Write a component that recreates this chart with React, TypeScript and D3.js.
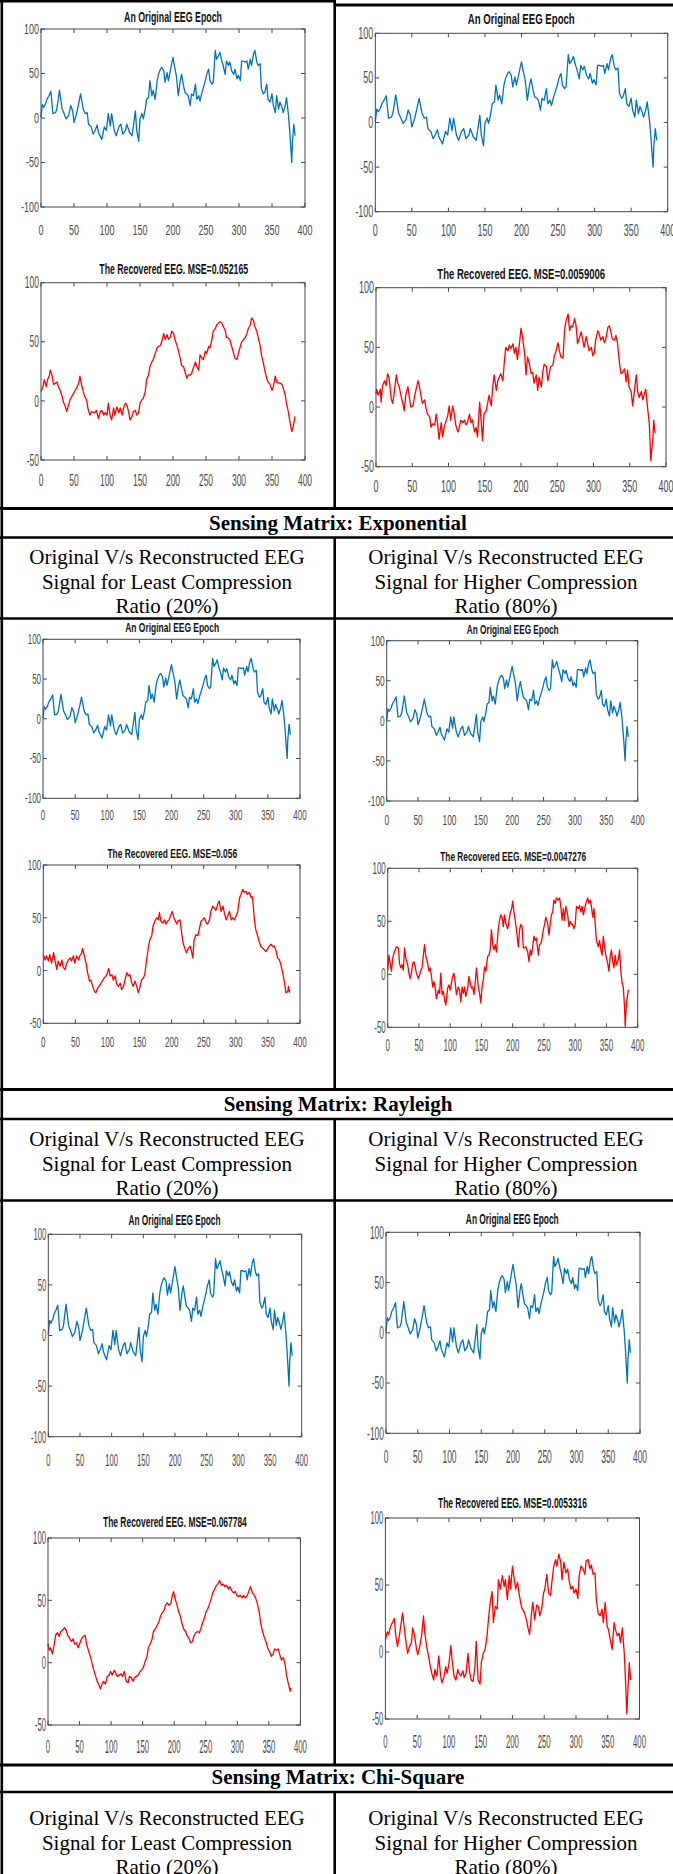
import React from "react";
import * as d3 from "d3";

// ---- Signal data: [sample index, amplitude] ----
const originalEpoch: [number, number][] = [[0,1],[2,15],[4,12],[7,16],[9,21],[12,25],[15,30],[18,5],[22,6],[24,10],[28,31],[32,10],[35,5],[38,-1],[42,3],[45,14],[48,8],[50,-5],[54,5],[60,27],[64,10],[67,5],[70,6],[72,-7],[76,-10],[79,-18],[82,-14],[85,-8],[87,-16],[92,-24],[96,-10],[99,-14],[102,5],[105,-9],[107,5],[111,-14],[114,-20],[118,-10],[121,-7],[124,-18],[128,-14],[130,-7],[134,-16],[138,-20],[140,-9],[143,8],[145,-14],[148,-26],[150,-1],[153,5],[155,-1],[158,10],[160,21],[163,23],[165,42],[168,25],[170,31],[173,21],[176,42],[178,49],[181,55],[183,57],[186,53],[188,40],[191,51],[193,42],[196,53],[198,61],[200,68],[202,59],[205,48],[208,25],[211,42],[213,49],[216,36],[218,29],[221,27],[223,25],[226,14],[228,27],[231,25],[234,38],[236,21],[239,25],[241,19],[244,29],[246,34],[249,42],[251,49],[254,55],[256,42],[259,38],[261,40],[264,76],[266,66],[269,70],[271,74],[274,64],[276,59],[279,49],[281,64],[284,59],[286,63],[289,53],[292,49],[294,55],[297,44],[299,48],[302,42],[304,64],[307,64],[309,63],[312,64],[314,55],[317,66],[319,59],[322,72],[324,76],[327,63],[329,59],[332,61],[334,33],[337,27],[339,29],[342,38],[344,21],[347,18],[350,27],[352,14],[355,6],[357,25],[360,10],[362,18],[365,12],[367,6],[370,14],[372,23],[375,3],[377,-16],[380,-50],[381,-27],[383,-7],[385,-20]];

const recoveredUniformLow: [number, number][] = [[0,8],[3,12],[5,18],[8,12],[10,18],[13,22],[14,26],[17,21],[19,14],[22,15],[24,16],[27,11],[29,9],[32,4],[34,-1],[37,-5],[39,-9],[42,-3],[44,1],[47,4],[49,6],[52,9],[54,11],[57,15],[59,21],[61,15],[64,8],[66,4],[69,1],[71,-6],[74,-12],[77,-9],[81,-10],[84,-8],[87,-15],[90,-9],[92,-8],[95,-12],[97,-10],[100,-12],[102,-2],[105,-13],[107,-16],[110,-6],[112,-12],[115,-5],[118,-10],[120,-6],[123,-12],[125,-6],[128,-2],[130,-3],[133,-10],[135,-16],[138,-13],[140,-9],[143,-8],[145,-12],[148,-10],[150,-2],[153,1],[155,2],[158,8],[160,18],[163,22],[165,29],[168,33],[170,35],[173,40],[176,45],[178,46],[181,47],[183,50],[186,57],[188,52],[191,56],[193,52],[196,54],[198,59],[201,57],[203,52],[206,47],[208,43],[211,36],[213,30],[216,29],[218,25],[221,19],[223,22],[226,22],[228,23],[231,28],[234,33],[236,29],[239,26],[241,39],[244,36],[246,35],[249,42],[251,40],[254,46],[256,45],[259,52],[261,59],[264,61],[266,64],[269,66],[271,67],[274,66],[276,63],[279,60],[281,54],[284,53],[286,52],[289,46],[292,40],[294,36],[297,35],[299,40],[302,46],[304,50],[307,52],[309,53],[312,57],[314,61],[317,64],[319,70],[322,68],[324,63],[327,59],[329,54],[332,47],[334,39],[337,32],[339,26],[342,19],[344,16],[347,14],[350,9],[352,12],[355,21],[357,16],[360,15],[362,15],[365,14],[367,11],[370,5],[372,-2],[375,-10],[377,-17],[380,-26],[382,-22],[385,-13]];

const recoveredUniformHigh: [number, number][] = [[0,11],[1,15],[3,10],[6,15],[7,4],[9,18],[12,22],[14,18],[16,28],[18,25],[21,7],[23,3],[25,11],[28,27],[30,20],[32,17],[35,8],[37,3],[39,-3],[41,10],[44,17],[46,8],[48,0],[51,1],[53,8],[55,14],[58,22],[60,17],[62,10],[64,3],[67,6],[69,-1],[71,-6],[74,-8],[76,-17],[78,-14],[81,-15],[83,-6],[85,-14],[87,-27],[90,-13],[92,-25],[94,-17],[97,-11],[99,-7],[101,1],[103,-11],[106,1],[108,-6],[110,-15],[113,-21],[115,-17],[117,-11],[120,-13],[122,-11],[124,-15],[126,-13],[129,-6],[131,-13],[133,-11],[136,-21],[138,-17],[140,-25],[143,4],[145,-11],[147,-28],[149,-6],[152,-3],[154,3],[156,10],[159,1],[161,17],[163,27],[166,14],[168,22],[170,25],[172,28],[175,22],[177,38],[179,50],[182,47],[184,52],[186,49],[189,53],[191,45],[193,50],[195,40],[198,54],[200,66],[202,59],[205,45],[207,27],[209,42],[212,35],[214,28],[216,29],[218,20],[221,27],[223,14],[225,25],[228,17],[230,29],[232,36],[235,34],[237,22],[239,28],[241,34],[244,35],[246,43],[248,46],[251,54],[253,47],[255,42],[258,41],[260,64],[262,72],[265,78],[267,64],[269,68],[271,67],[274,74],[276,68],[278,53],[281,59],[283,63],[285,57],[287,50],[290,59],[292,53],[294,47],[297,50],[299,43],[301,45],[303,56],[306,64],[308,61],[310,56],[313,59],[315,54],[317,57],[320,67],[322,68],[324,63],[326,57],[329,56],[331,60],[333,54],[336,36],[338,28],[340,29],[343,32],[345,21],[347,31],[349,17],[352,13],[354,1],[356,11],[359,27],[361,13],[363,8],[366,13],[368,6],[370,11],[372,15],[375,-3],[377,-14],[379,-45],[382,-25],[383,-11],[385,-22]];

const recoveredExpLow: [number, number][] = [[0,15],[3,10],[5,14],[8,9],[10,15],[13,7],[16,17],[18,10],[21,1],[23,9],[26,4],[29,10],[31,3],[34,1],[36,6],[39,10],[42,12],[44,9],[47,14],[49,7],[52,14],[55,10],[57,14],[60,17],[61,21],[64,14],[67,6],[69,-2],[72,-10],[74,-9],[77,-15],[80,-20],[82,-21],[85,-16],[87,-15],[90,-12],[93,-9],[95,-7],[98,-5],[100,-2],[102,2],[104,-5],[107,-4],[109,-9],[112,-5],[114,-12],[117,-15],[120,-12],[122,-18],[125,-15],[127,-10],[130,-2],[133,-5],[135,-4],[138,-12],[140,-15],[143,-10],[146,-16],[148,-21],[151,-15],[153,-9],[156,-7],[158,-4],[161,10],[164,23],[166,29],[169,33],[171,42],[174,47],[177,50],[179,48],[181,55],[183,47],[186,45],[189,48],[191,44],[194,47],[196,48],[199,53],[201,56],[203,51],[205,48],[208,44],[210,47],[213,48],[216,34],[218,26],[221,20],[223,17],[226,21],[229,23],[231,18],[233,12],[235,29],[238,34],[241,33],[243,39],[246,47],[248,48],[251,50],[254,45],[256,44],[259,48],[261,56],[264,61],[267,59],[269,57],[272,63],[274,66],[277,56],[280,61],[282,55],[285,48],[287,51],[290,56],[293,48],[295,50],[298,48],[300,51],[303,56],[306,69],[308,72],[311,77],[313,74],[316,75],[318,72],[321,74],[324,69],[326,70],[329,48],[331,39],[334,33],[337,26],[339,23],[342,21],[344,20],[347,18],[350,21],[352,23],[355,25],[357,23],[360,23],[363,18],[365,12],[368,10],[370,6],[373,-2],[376,-12],[378,-21],[381,-20],[382,-15],[384,-21]];

const recoveredExpHigh: [number, number][] = [[0,4],[2,18],[4,10],[6,3],[8,15],[10,20],[12,23],[14,26],[17,25],[19,10],[21,6],[23,9],[25,4],[27,25],[29,15],[32,9],[34,1],[36,-4],[38,1],[40,10],[42,12],[44,7],[46,1],[49,-4],[51,-1],[53,4],[55,6],[57,18],[59,28],[61,17],[64,10],[66,3],[68,6],[70,-2],[72,-12],[74,-7],[76,-13],[78,-23],[81,-15],[83,-18],[85,1],[87,-19],[89,-16],[91,-24],[93,-29],[96,-13],[98,-10],[100,-15],[102,-8],[104,-2],[106,1],[108,-8],[110,-19],[113,-12],[115,-15],[117,-26],[119,-12],[121,-18],[123,-12],[125,-21],[128,-13],[130,-2],[132,-8],[134,-13],[136,-12],[138,-19],[140,-8],[142,6],[145,-12],[147,-18],[149,-27],[151,-12],[153,-5],[155,7],[157,3],[160,17],[162,18],[164,23],[166,42],[168,29],[170,23],[172,28],[174,21],[177,43],[179,51],[181,56],[183,54],[185,45],[187,56],[189,48],[192,43],[194,50],[196,58],[198,61],[200,69],[202,59],[204,51],[206,42],[209,26],[211,42],[213,47],[215,45],[217,25],[219,25],[221,26],[224,21],[226,12],[228,23],[230,18],[232,26],[234,36],[236,32],[238,34],[241,18],[243,28],[245,29],[247,34],[249,42],[251,47],[253,54],[256,48],[258,37],[260,47],[262,56],[264,59],[266,70],[268,67],[270,72],[273,70],[275,72],[277,64],[279,51],[281,62],[283,51],[285,64],[288,56],[290,45],[292,50],[294,47],[296,47],[298,43],[300,47],[302,64],[305,62],[307,65],[309,59],[311,64],[313,56],[315,61],[317,67],[320,72],[322,67],[324,70],[326,64],[328,54],[330,62],[332,48],[334,32],[337,26],[339,32],[341,23],[343,18],[345,36],[347,26],[349,18],[352,10],[354,3],[356,17],[358,23],[360,12],[362,6],[364,18],[366,9],[369,14],[371,23],[373,3],[375,-8],[377,-12],[379,-32],[380,-49],[382,-27],[385,-15],[386,-16]];

const recoveredRayLow: [number, number][] = [[0,15],[2,10],[4,12],[7,7],[10,15],[12,22],[15,24],[18,21],[20,25],[23,26],[26,28],[29,26],[31,22],[34,20],[37,17],[40,19],[42,15],[45,16],[48,12],[50,15],[53,19],[56,21],[59,22],[61,15],[64,10],[67,5],[69,1],[72,-5],[75,-10],[78,-15],[80,-17],[83,-21],[86,-17],[88,-15],[91,-17],[94,-11],[97,-10],[99,-7],[102,-10],[105,-6],[108,-9],[110,-11],[113,-10],[116,-9],[118,-11],[121,-7],[124,-15],[127,-16],[129,-11],[132,-12],[135,-15],[137,-12],[140,-11],[143,-10],[146,-7],[148,-6],[151,-4],[154,1],[157,5],[159,12],[162,15],[165,19],[167,25],[170,27],[173,30],[176,33],[178,37],[181,40],[184,42],[186,46],[189,48],[192,46],[195,48],[197,54],[199,57],[201,52],[204,47],[207,41],[210,37],[212,32],[215,27],[218,25],[220,22],[223,20],[226,16],[229,17],[231,21],[234,24],[237,25],[240,24],[242,27],[245,32],[248,36],[250,40],[253,43],[256,47],[259,52],[261,56],[264,59],[267,62],[269,63],[272,66],[275,62],[278,63],[280,61],[283,62],[286,59],[288,61],[291,58],[294,56],[297,57],[299,54],[302,53],[305,54],[308,52],[310,54],[313,52],[316,54],[318,57],[321,61],[324,56],[327,54],[329,52],[332,47],[335,40],[337,32],[340,25],[343,20],[346,16],[348,12],[351,9],[354,5],[357,7],[359,11],[362,10],[365,11],[367,7],[370,2],[373,4],[376,-2],[378,-10],[381,-17],[384,-23],[385,-20]];

const recoveredRayHigh: [number, number][] = [[0,9],[3,15],[5,13],[8,19],[11,22],[14,25],[16,14],[19,4],[22,12],[24,19],[27,29],[30,17],[32,9],[35,-1],[38,4],[41,7],[43,18],[46,12],[49,2],[51,-2],[54,4],[57,12],[60,27],[62,14],[65,4],[68,-3],[70,-9],[73,-16],[76,-21],[78,-13],[81,-18],[84,-3],[87,-18],[89,-23],[92,-19],[95,-11],[97,-16],[100,-9],[103,5],[105,-6],[108,-18],[111,-21],[114,-13],[116,-16],[119,-18],[122,-14],[124,-19],[127,-16],[130,-1],[132,-13],[135,-21],[138,-22],[141,-11],[143,8],[146,-21],[149,-24],[151,-8],[154,-1],[157,2],[160,12],[162,23],[165,37],[168,45],[170,22],[173,34],[176,32],[178,54],[181,47],[184,57],[187,49],[189,54],[192,39],[195,57],[197,47],[200,64],[203,54],[205,47],[208,52],[211,42],[214,34],[216,32],[219,29],[222,24],[224,19],[227,13],[230,29],[232,37],[235,24],[238,35],[241,34],[243,27],[246,32],[249,44],[251,47],[254,58],[257,44],[260,42],[262,52],[265,64],[268,69],[270,64],[273,73],[276,67],[278,54],[281,67],[284,59],[287,62],[289,54],[292,47],[295,49],[297,44],[300,47],[303,40],[305,57],[308,64],[311,62],[314,58],[316,68],[319,69],[322,62],[324,65],[327,58],[330,59],[332,39],[335,29],[338,27],[341,32],[343,22],[346,37],[349,19],[351,17],[354,9],[357,2],[360,22],[362,17],[365,12],[368,14],[370,7],[373,18],[376,-1],[378,-21],[380,-46],[382,-26],[384,-8],[386,-21]];

// ---- Axis ticks ----
const xTicks = [0, 50, 100, 150, 200, 250, 300, 350, 400];
const yTicksOriginal = [-100, -50, 0, 50, 100];
const yTicksRecovered = [-50, 0, 50, 100];

// ---- Titles and table captions ----
const titleOriginal = "An Original EEG Epoch";
const mseValues = ["0.052165", "0.0059006", "0.056", "0.0047276", "0.067784", "0.0053316"];
const matrixNames = ["Exponential", "Rayleigh", "Chi-Square"];
const captionLeft = ["Original V/s Reconstructed EEG", "Signal for Least Compression", "Ratio (20%)"];
const captionRight = ["Original V/s Reconstructed EEG", "Signal for Higher Compression", "Ratio (80%)"];

const BLUE = "#0072BD";
const RED = "#FF0000";

type Panel = {
  data: [number, number][];
  color: string;
  x0: number; x1: number; y0: number; y1: number;
  yTicks: number[];
  title: string; tx: number; ty: number; tw: number; tfs: number;
  ly: number; fs: number; sx: number;
};

const mk = (
  data: [number, number][], color: string, yTicks: number[], title: string,
  box: [number, number, number, number], t: [number, number, number, number], lab: [number, number, number]
): Panel => ({
  data, color, yTicks, title,
  x0: box[0], x1: box[1], y0: box[2], y1: box[3],
  tx: t[0], ty: t[1], tw: t[2], tfs: t[3],
  ly: lab[0], fs: lab[1], sx: lab[2],
});

const rec = (i: number) => `The Recovered EEG. MSE=${mseValues[i]}`;

const panels: Panel[] = [
  mk(originalEpoch, BLUE, yTicksOriginal, titleOriginal, [41, 305, 29, 207], [173, 17, 98, 14], [230, 15, 0.6]),
  mk(originalEpoch, BLUE, yTicksOriginal, titleOriginal, [375.3, 667.7, 33.3, 211.7], [521.3, 19.3, 107, 14], [230, 16, 0.56]),
  mk(recoveredUniformLow, RED, yTicksRecovered, rec(0), [41, 305, 282.7, 460], [173.7, 269, 149, 14], [480, 16, 0.53]),
  mk(recoveredUniformHigh, RED, yTicksRecovered, rec(1), [376, 666, 287.7, 466.7], [521.2, 274, 168, 14], [486.7, 16, 0.56]),
  mk(originalEpoch, BLUE, yTicksOriginal, titleOriginal, [43, 300, 639.3, 798.3], [172.2, 627, 94, 13], [815, 14, 0.57]),
  mk(originalEpoch, BLUE, yTicksOriginal, titleOriginal, [386.7, 637.7, 640.7, 801], [512.7, 629, 92, 13], [820, 15.5, 0.54]),
  mk(recoveredExpLow, RED, yTicksRecovered, rec(2), [43.3, 300, 865, 1023.3], [172.3, 853.3, 130, 13], [1041.7, 15.5, 0.52]),
  mk(recoveredExpHigh, RED, yTicksRecovered, rec(3), [387.7, 637.7, 868.3, 1027.3], [513.2, 856, 146, 13], [1045, 16.5, 0.48]),
  mk(originalEpoch, BLUE, yTicksOriginal, titleOriginal, [48.3, 301.7, 1234.3, 1436.7], [174.5, 1220, 92, 14], [1460, 17, 0.45]),
  mk(originalEpoch, BLUE, yTicksOriginal, titleOriginal, [386, 640, 1232.3, 1433.3], [512.3, 1219, 93, 14], [1456.7, 18, 0.47]),
  mk(recoveredRayLow, RED, yTicksRecovered, rec(4), [48, 300.4, 1538, 1725], [174.9, 1522, 144, 15], [1746.5, 18, 0.43]),
  mk(recoveredRayHigh, RED, yTicksRecovered, rec(5), [385.4, 639.5, 1518, 1719], [512.4, 1503, 149, 15], [1742, 18, 0.43]),
];

const AXIS = "#474747";
const LABEL = "#4a4a4a";
const SANS = "'Liberation Sans', Arial, sans-serif";
const SERIF = "'Liberation Serif', 'Times New Roman', serif";

// Natural text width, used to squeeze titles horizontally into their slot.
let measureCtx: CanvasRenderingContext2D | null = null;
function naturalWidth(text: string, size: number): number {
  if (!measureCtx && typeof document !== "undefined") {
    measureCtx = document.createElement("canvas").getContext("2d");
  }
  if (!measureCtx) return text.length * size * 0.6;
  measureCtx.font = `bold ${size}px 'Liberation Sans', Arial, sans-serif`;
  return measureCtx.measureText(text).width || text.length * size * 0.6;
}

function PlotPanel({ p }: { p: Panel }) {
  const x = d3.scaleLinear().domain([0, 400]).range([p.x0, p.x1]);
  const yDom = d3.extent(p.yTicks) as [number, number];
  const y = d3.scaleLinear().domain(yDom).range([p.y1, p.y0]);
  const line = d3.line<[number, number]>().x((d) => x(d[0])).y((d) => y(d[1]));
  const tl = 4;
  const tsx = p.tw / naturalWidth(p.title, p.tfs);
  return (
    <g>
      <path d={line(p.data) ?? ""} fill="none" stroke={p.color} strokeWidth={1.3} strokeLinejoin="round" />
      <rect x={p.x0} y={p.y0} width={p.x1 - p.x0} height={p.y1 - p.y0} fill="none" stroke={AXIS} strokeWidth={1} />
      {xTicks.map((t) => (
        <g key={"x" + t}>
          <line x1={x(t)} x2={x(t)} y1={p.y1} y2={p.y1 - tl} stroke={AXIS} />
          <line x1={x(t)} x2={x(t)} y1={p.y0} y2={p.y0 + tl} stroke={AXIS} />
          <text
            transform={`translate(${x(t)},${p.ly}) scale(${p.sx},1)`}
            textAnchor="middle" dominantBaseline="central"
            fontFamily={SANS} fontSize={p.fs} fill={LABEL}
          >{t}</text>
        </g>
      ))}
      {p.yTicks.map((t) => (
        <g key={"y" + t}>
          <line x1={p.x0} x2={p.x0 + tl} y1={y(t)} y2={y(t)} stroke={AXIS} />
          <line x1={p.x1} x2={p.x1 - tl} y1={y(t)} y2={y(t)} stroke={AXIS} />
          <text
            transform={`translate(${p.x0 - 2},${y(t)}) scale(${p.sx},1)`}
            textAnchor="end" dominantBaseline="central"
            fontFamily={SANS} fontSize={p.fs} fill={LABEL}
          >{t}</text>
        </g>
      ))}
      <text
        transform={`translate(${p.tx},${p.ty}) scale(${tsx},1)`}
        textAnchor="middle" dominantBaseline="central"
        fontFamily={SANS} fontWeight="bold" fontSize={p.tfs} fill="#111"
      >{p.title}</text>
    </g>
  );
}

// Section header layout: [top rule, header text, rule, caption lines..., bottom rule]
const sections = [
  { top: 508.5, head: 522.5, mid: 537.5, caps: [557, 582, 606], bottom: 618.5 },
  { top: 1089.5, head: 1104, mid: 1119, caps: [1139, 1164, 1188], bottom: 1200.5 },
  { top: 1765, head: 1777, mid: 1792, caps: [1818, 1843, 1867], bottom: 1900 },
];

const DIV_X = 334.7;

export default function App() {
  const rules: React.ReactElement[] = [];
  // top border
  rules.push(<line key="tl" x1={0} x2={DIV_X + 1} y1={1.3} y2={1.3} stroke="#000" strokeWidth={2.6} />);
  rules.push(<line key="tr" x1={DIV_X - 1} x2={673} y1={5} y2={5} stroke="#000" strokeWidth={3} />);
  // left border
  rules.push(<line key="lb" x1={1.8} x2={1.8} y1={0} y2={1874} stroke="#000" strokeWidth={2.6} />);
  // column divider, interrupted by header rows
  const divSegs: [number, number][] = [
    [0, sections[0].top],
    [sections[0].mid, sections[1].top],
    [sections[1].mid, sections[2].top],
    [sections[2].mid, 1874],
  ];
  divSegs.forEach(([a, b], i) =>
    rules.push(<line key={"d" + i} x1={DIV_X} x2={DIV_X} y1={a} y2={b} stroke="#000" strokeWidth={2.6} />)
  );
  sections.forEach((s, i) => {
    rules.push(<line key={"a" + i} x1={0} x2={673} y1={s.top} y2={s.top} stroke="#000" strokeWidth={3} />);
    rules.push(<line key={"b" + i} x1={0} x2={673} y1={s.mid} y2={s.mid} stroke="#000" strokeWidth={2.6} />);
    if (s.bottom < 1874)
      rules.push(<line key={"c" + i} x1={0} x2={673} y1={s.bottom} y2={s.bottom} stroke="#000" strokeWidth={2.6} />);
  });

  return (
    <div style={{ position: "absolute", left: 0, top: 0 }}>
      <svg width={673} height={1874} viewBox="0 0 673 1874" style={{ display: "block", background: "#fff" }}>
        <rect x={0} y={0} width={673} height={1874} fill="#fff" />
        {panels.map((p, i) => <PlotPanel key={i} p={p} />)}
        {sections.map((s, i) => (
          <g key={"s" + i}>
            <text x={338} y={s.head} textAnchor="middle" dominantBaseline="central"
              fontFamily={SERIF} fontWeight="bold" fontSize={21} fill="#000">
              {`Sensing Matrix: ${matrixNames[i]}`}
            </text>
            {captionLeft.map((c, j) => (
              <text key={"l" + j} x={167} y={s.caps[j]} textAnchor="middle" dominantBaseline="central"
                fontFamily={SERIF} fontSize={21} fill="#000">{c}</text>
            ))}
            {captionRight.map((c, j) => (
              <text key={"r" + j} x={506} y={s.caps[j]} textAnchor="middle" dominantBaseline="central"
                fontFamily={SERIF} fontSize={21} fill="#000">{c}</text>
            ))}
          </g>
        ))}
        {rules}
      </svg>
    </div>
  );
}
